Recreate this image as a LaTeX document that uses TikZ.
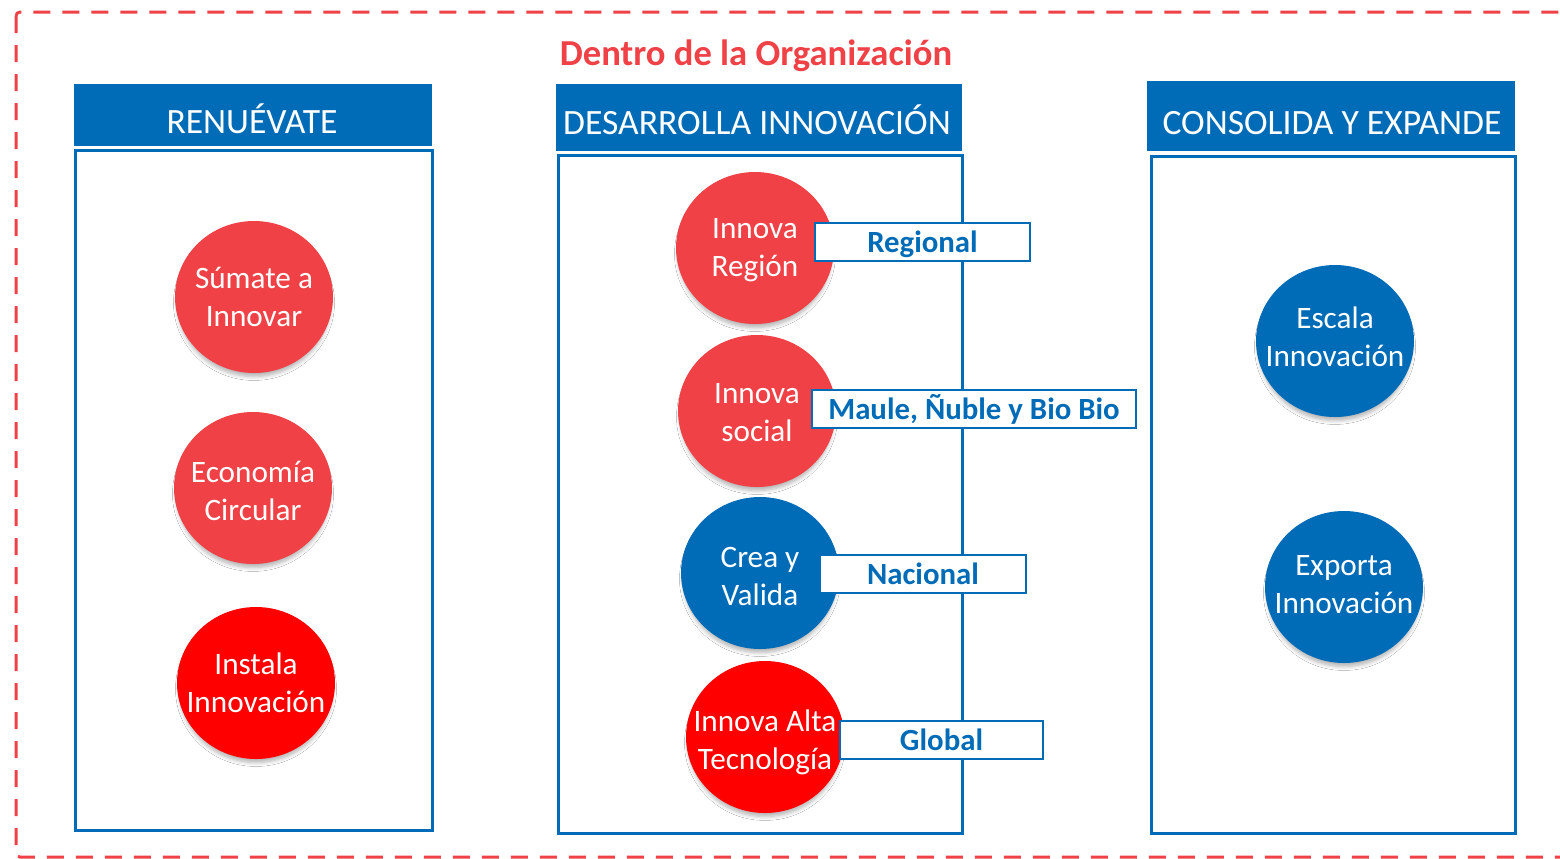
\documentclass[tikz,border=0pt]{standalone}
\usepackage{fontspec}
\setmainfont{Carlito}
\usetikzlibrary{shapes.geometric,shadows.blur}
\definecolor{cred}{RGB}{239,65,70}
\definecolor{cblue}{RGB}{0,107,182}
\definecolor{pred}{RGB}{255,0,0}
\begin{document}
\begin{tikzpicture}[x=0.5pt,y=-0.5pt,
  hdr/.style={fill=cblue, draw=none, inner sep=0pt},
  hdrtxt/.style={text=white, anchor=base, inner sep=0pt, font=\fontsize{17.8}{20}\selectfont},
  colbox/.style={draw=cblue, line width=1.5pt, fill=white, inner sep=0pt},
  bub/.style={ellipse, minimum width=79pt, minimum height=76pt, inner sep=0pt, draw=none,
    blur shadow={shadow xshift=0pt, shadow yshift=-3pt, shadow scale=0.97, shadow blur radius=2pt, shadow blur steps=6, shadow opacity=30}},
  bubtxt/.style={text=white, align=center, inner sep=0pt, font=\fontsize{15.6}{19}\selectfont},
  tag/.style={draw=cblue, line width=1pt, fill=white, text=cblue, inner sep=0pt,
    minimum height=19pt, text height=11.5pt, text depth=1pt, font=\bfseries\fontsize{15.4}{18}\selectfont},
]
\useasboundingbox (0,0) rectangle (1560,858);
\fill[white] (0,0) rectangle (1560,858);
% outer dashed frame
\draw[cred, line width=1.5pt, dash pattern=on 8.5pt off 6pt, rounded corners=2pt] (16,12) rectangle (1600,857);
\node[text=cred, font=\bfseries\fontsize{18.3}{22}\selectfont, anchor=base, inner sep=0pt] (title) at (756,65) {Dentro de la Organización};

% column 1
\node[hdr, minimum width=179pt, minimum height=31pt] (h1) at (253,115) {};
\node[hdrtxt] (h1t) at (252,133) {RENUÉVATE};
\node[colbox, minimum width=178.5pt, minimum height=340pt] (b1) at (253.5,490) {};

% column 2
\node[hdr, minimum width=203pt, minimum height=33.5pt] (h2) at (759,117.5) {};
\node[hdrtxt] (h2t) at (757,134) {DESARROLLA INNOVACIÓN};
\node[colbox, minimum width=202pt, minimum height=339pt] (b2) at (760,494) {};

% column 3
\node[hdr, minimum width=184pt, minimum height=35pt] (h3) at (1331,116) {};
\node[hdrtxt] (h3t) at (1332,134) {CONSOLIDA Y EXPANDE};
\node[colbox, minimum width=182pt, minimum height=338.5pt] (b3) at (1333,494.5) {};

% bubbles column 1
\node[bub, fill=cred, label={[bubtxt]center:Súmate a\\Innovar}] (s1) at (254,297) {};
\node[bub, fill=cred, label={[bubtxt, yshift=-1.5pt]center:Economía\\Circular}] (s2) at (253,488) {};
\node[bub, fill=pred, label={[bubtxt]center:Instala\\Innovación}] (s3) at (256,683) {};

% bubbles column 2
\node[bub, fill=cred, label={[bubtxt, yshift=-1pt]center:Innova\\Región}] (m1) at (755,248) {};
\node[bub, fill=cred, label={[bubtxt, yshift=-1pt]center:Innova\\social}] (m2) at (757,411) {};
\node[bub, fill=cblue, label={[bubtxt, yshift=-1.5pt]center:Crea y\\Valida}] (m3) at (760,573) {};
\node[bub, fill=pred, label={[bubtxt, yshift=-2.5pt]center:Innova Alta\\Tecnología}] (m4) at (765,737) {};

% bubbles column 3
\node[bub, fill=cblue, label={[bubtxt, yshift=2pt]center:Escala\\Innovación}] (r1) at (1335,341) {};
\node[bub, fill=cblue, label={[bubtxt, yshift=1.2pt]center:Exporta\\Innovación}] (r2) at (1344,587) {};

% tags
\node[tag, minimum width=107.5pt] (t1) at (922.5,242) {Regional};
\node[tag, minimum width=162pt] (t2) at (974,409) {Maule, Ñuble y Bio Bio};
\node[tag, minimum width=103pt] (t3) at (923,574) {Nacional};
\node[tag, minimum width=101.5pt] (t4) at (941.5,740) {Global};
\end{tikzpicture}
\end{document}
